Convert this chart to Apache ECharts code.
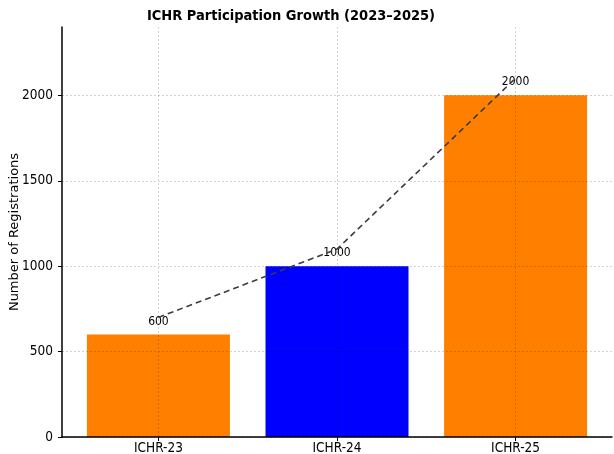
<!DOCTYPE html>
<html>
<head>
<meta charset="utf-8">
<script src="https://cdn.jsdelivr.net/npm/echarts@6/dist/echarts.min.js"></script>
<style>
  html, body { margin: 0; padding: 0; background: #fff; }
  #chart { width: 614px; height: 454px; }
</style>
</head>
<body>
<div id="chart"></div>
<script>
// data
var categories = ['ICHR-23', 'ICHR-24', 'ICHR-25'];
var registrations = [600, 1000, 2000];
var trend = [700, 1100, 2100];          // dashed trend line, drawn a little above the bars
var barColors = ['#FF7F00', '#0000FF', '#FF7F00'];
var yTicks = [0, 500, 1000, 1500, 2000];

// the picture is a bit squeezed sideways, so the condensed face fits it better
var font = '"DejaVu Sans Condensed", "DejaVu Sans"';
var chart = echarts.init(document.getElementById('chart'));

var barData = registrations.map(function (v, i) {
    return {value: [i, v], itemStyle: {color: barColors[i]}};
});
var lineData = trend.map(function (v, i) { return [i, v]; });

chart.setOption({
    animation: false,
    textStyle: {fontFamily: font},
    title: {
        text: 'ICHR Participation Growth (2023\u20132025)',
        left: 286,
        textAlign: 'center',
        top: 4,
        textStyle: {fontFamily: font, fontSize: 14.5, fontWeight: 'bold', color: '#000'}
    },
    grid: {left: 62, right: 2, top: 27, bottom: 17, containLabel: false, outerBoundsMode: 'none'},
    xAxis: {
        type: 'value',
        min: -0.54,
        max: 2.54,
        z: 3,
        axisLine: {show: true, onZero: false, lineStyle: {color: '#000', width: 1.5}},
        axisTick: {show: true, customValues: [0, 1, 2], length: 4, lineStyle: {color: '#000'}},
        axisLabel: {
            customValues: [0, 1, 2],
            fontFamily: font, color: '#000', fontSize: 13.5, margin: 4,
            formatter: function (v) { return categories[Math.round(v)]; }
        },
        splitLine: {show: true, lineStyle: {color: 'rgba(0,0,0,0.22)', type: [2, 2], width: 0.8}}
    },
    yAxis: {
        type: 'value',
        min: 0,
        max: 2400,
        z: 3,
        name: 'Number of Registrations',
        nameLocation: 'middle',
        nameGap: 41,
        nameMoveOverlap: false,
        nameTextStyle: {fontFamily: 'DejaVu Sans', fontSize: 13, color: '#000'},
        axisLine: {show: true, onZero: false, lineStyle: {color: '#000', width: 1.5}},
        axisTick: {show: true, customValues: yTicks, length: 4, lineStyle: {color: '#000'}},
        axisLabel: {
            customValues: yTicks, fontFamily: font, color: '#000', fontSize: 13.5, margin: 9,
            formatter: function (v) { return String(v); }
        },
        splitLine: {show: true, lineStyle: {color: 'rgba(0,0,0,0.22)', type: [2, 2], width: 0.8}}
    },
    series: [
        {
            type: 'bar',
            data: barData,
            barWidth: 143,
            z: 2,
            label: {
                show: true, position: 'top', distance: 7,
                fontFamily: font, color: '#000', fontSize: 12,
                formatter: function (p) { return p.value[1]; }
            }
        },
        {
            type: 'line',
            data: lineData,
            showSymbol: false,
            symbol: 'none',
            z: 4,
            lineStyle: {color: '#3c3c3c', width: 1.6, type: [6, 4]}
        }
    ]
});
</script>
</body>
</html>
